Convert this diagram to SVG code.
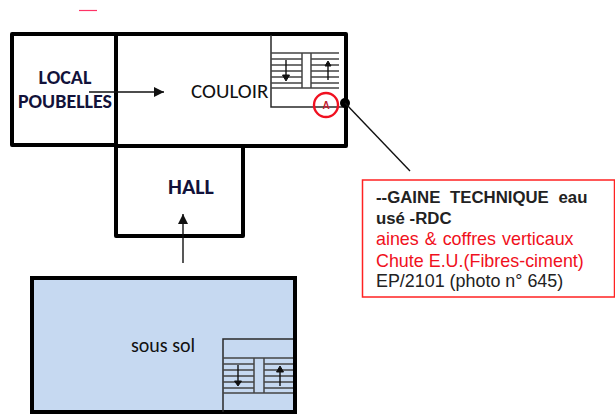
<svg xmlns="http://www.w3.org/2000/svg" width="615" height="417" viewBox="0 0 615 417">
<defs>
<marker id="ah" markerUnits="userSpaceOnUse" markerWidth="11" markerHeight="11" refX="10" refY="5" orient="auto"><path d="M0 0L10 5L0 10Z" fill="#111"/></marker>
</defs>
<style>
.w{fill:#fff;stroke:#000;stroke-width:4;stroke-linejoin:round}
.t{stroke:#2a2a2a;stroke-width:1.5;fill:none}
.s{stroke:#444;stroke-width:1.5;fill:none}
.c{stroke:#111;stroke-width:1.4;fill:none}
text{font-family:"Liberation Sans",Arial,sans-serif}
.l{font-family:Carlito,"Open Sans","Liberation Sans",sans-serif;font-size:20px;fill:#111}
.b{font-weight:bold;fill:#12123a}
.box{font-size:17.900px}
.bb{font-size:16.800px;font-weight:bold;fill:#222}
</style>
<rect width="615" height="417" fill="#fff"/>
<path d="M79 10.500H97" stroke="#f36" stroke-width="1.200"/>
<g id="local-poubelles">
<rect class="w" x="12" y="34" width="104" height="111"/>
<text class="l b" x="65" y="84" text-anchor="middle">LOCAL</text>
<text class="l b" x="65" y="108" text-anchor="middle">POUBELLES</text>
</g>
<g id="couloir">
<rect class="w" x="116" y="34" width="230" height="112"/>
<text class="l" x="191" y="98" style="font-size:21px">COULOIR</text>
</g>
<g id="hall">
<rect class="w" x="116" y="146" width="127" height="90"/>
<text class="l b" x="191" y="194" text-anchor="middle" style="font-size:22px">HALL</text>
</g>
<g id="sous-sol">
<rect x="32" y="278" width="263" height="134" fill="#c6d9f1" stroke="#000" stroke-width="4"/>
<text class="l" x="163" y="352" text-anchor="middle">sous sol</text>
</g>
<g id="escalier-rdc">
<path class="t" d="M271 35V107H344"/>
<path class="s" d="M271 53H339M271 59H302M271 65H302M271 71H302M271 77H302M271 83H302M271 88H339M311 59H339M311 65H339M311 71H339M311 77H339M311 83H339M302 53V88M311 53V88"/>
<path class="c" d="M286 60V78"/><path d="M282.500 75H289.500L286 81Z" fill="#111" stroke="#111"/>
<path class="c" d="M328 80V64"/><path d="M325 66H331L328 61Z" fill="#111" stroke="#111"/>
</g>
<g id="escalier-sous-sol">
<path class="t" d="M223 412V339H293"/>
<path class="s" d="M223 358H293M223 364H254M223 370H254M223 376H254M223 382H254M223 388H254M223 393H293M264 364H293M264 370H293M264 376H293M264 382H293M264 388H293M254 358V393M264 358V393"/>
<path class="c" d="M238 365V384"/><path d="M234.500 381H241.500L238 386Z" fill="#111" stroke="#111"/>
<path class="c" d="M280 386V368"/><path d="M276.500 372H283.500L280 366Z" fill="#111" stroke="#111"/>
</g>
<g id="reperes">
<circle id="repere-a" cx="326" cy="105" r="12" fill="none" stroke="#f01020" stroke-width="2.400"/>
<text x="326" y="109" text-anchor="middle" font-size="10" font-weight="bold" fill="#c02030">A</text>
<circle cx="345" cy="103" r="5" fill="#000"/>
</g>
<g id="connecteurs">
<path class="c" d="M89 92H164" marker-end="url(#ah)"/>
<path class="c" d="M183 263V214" marker-end="url(#ah)"/>
<path class="c" d="M345 103L410 171"/>
</g>
<g id="note-gaine">
<rect x="362.500" y="180" width="252" height="117" fill="#fff" stroke="#f22" stroke-width="1.500"/>
<text class="bb" x="376" y="203" word-spacing="5px">--GAINE TECHNIQUE eau</text>
<text class="bb" x="376" y="224">usé -RDC</text>
<text class="box" x="376" y="245" fill="#f01020" word-spacing="1px">aines &amp; coffres verticaux</text>
<text class="box" x="376" y="267" fill="#f01020">Chute E.U.(Fibres-ciment)</text>
<text class="box" x="376" y="287" fill="#222">EP/2101 (photo n° 645)</text>
</g>
</svg>
